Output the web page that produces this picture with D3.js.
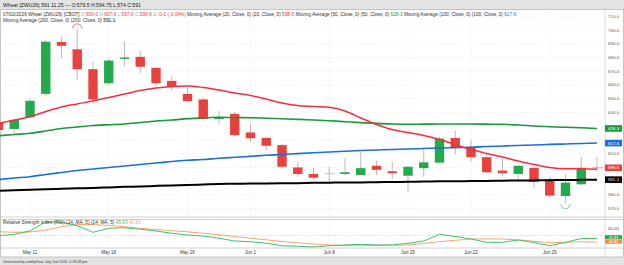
<!DOCTYPE html>
<html>
<head>
<meta charset="utf-8">
<script src="https://cdn.jsdelivr.net/npm/d3@7"></script>
<style>
body { margin: 0; background: #fff; }
svg { display: block; font-family: "Liberation Sans", Arial, sans-serif; }
</style>
</head>
<body>
<svg id="chart" width="624" height="265"></svg>
<script>
// daily bars, ZWU26
var dates = ["May 7","May 8","May 11","May 12","May 13","May 14","May 15","May 18","May 19","May 20",
  "May 21","May 22","May 26","May 27","May 28","May 29","Jun 1","Jun 2","Jun 3","Jun 4",
  "Jun 5","Jun 8","Jun 9","Jun 10","Jun 11","Jun 12","Jun 15","Jun 16","Jun 17","Jun 18",
  "Jun 22","Jun 23","Jun 24","Jun 25","Jun 26","Jun 29","Jun 30","Jul 1","Jul 2"];
var opens  = [633, 628, 636.5, 653.5, 691.25, 686, 671.5, 661.25, 679, 680.5,
  672.5, 663, 653.5, 649.5, 635.25, 639, 625.5, 621.5, 616.25, 600,
  595.25, 595.75, 595.25, 594.5, 601.25, 597.25, 594, 599.5, 603.5, 621.5,
  615, 607.5, 597.75, 595.25, 599.75, 591.5, 579.25, 587.75, 600];
var highs  = [634.5, 635.5, 650.25, 692.75, 695, 700.5, 677, 679.5, 691.5, 685,
  673, 667, 658, 651, 641.25, 640.5, 631.5, 622.5, 617, 603.75,
  599.5, 600.5, 606.75, 611, 605, 604.25, 600.75, 613.25, 622, 626.5,
  620, 610.75, 606.75, 601.5, 600, 593.25, 595, 607.75, 607.75];
var lows   = [623.5, 624.25, 635.75, 651.5, 679.5, 664, 646.25, 659.75, 674, 668.5,
  659.25, 655.5, 647.75, 634, 631.5, 622.5, 618.75, 612.25, 599.5, 593.25,
  591, 588, 594.5, 594.5, 594.5, 591.5, 582.5, 593.25, 603, 609.5,
  604.25, 596.25, 593.25, 591, 584.75, 577.5, 574, 586.75, 597];
var closes = [627.25, 634.5, 648.5, 691.5, 688.5, 671.5, 649.5, 677.75, 680, 673.25,
  661.25, 658.75, 648.25, 635.25, 636.5, 623.5, 621.25, 615.75, 600.5, 595.25,
  592.5, 595.75, 596.5, 599.5, 598.25, 595.75, 600.5, 603.75, 621, 614.5,
  607.5, 596.5, 595.75, 601.25, 589.5, 579.5, 589, 599.75, 599.75];

var ma20  = [632, 634.5, 636.9, 640.7, 644, 646.2, 648.35, 650.9, 653.4, 656,
  657.8, 658.9, 659.3, 658.2, 656.35, 654.2, 652.4, 649.8, 646.9, 645.1,
  644.4, 643.8, 641.1, 636, 631.3, 627.6, 625.4, 623.25, 620.3, 616.7,
  613.1, 610.2, 607.6, 604.7, 602.2, 600, 599.1, 599.1, 598.625];
var ma50  = [623.1, 624, 624.85, 626.5, 628.3, 629.4, 630.5, 631.1, 631.6, 632.7,
  633.8, 634.5, 635.5, 636.1, 636.5, 636.3, 636.2, 635.8, 635.4, 635,
  634.5, 634, 633.3, 632.6, 632.1, 631.6, 631.4, 631.5, 631.6, 631.6,
  631.6, 631.5, 631.4, 630.9, 630.2, 629.6, 629.2, 628.85, 628.375];
var ma100 = [591.2, 592.3, 593.3, 594.9, 596.3, 597.8, 598.9, 600, 601.1, 602.2,
  603.2, 604.3, 605.2, 605.8, 606.7, 607.4, 608.1, 608.85, 609.4, 610.1,
  610.7, 611.25, 611.8, 612.3, 612.7, 613.1, 613.4, 613.8, 614.2, 614.45,
  614.7, 615.2, 615.6, 616, 616.3, 616.8, 617.1, 617.4, 617.75];
var ma200 = [583.1, 583.5, 583.8, 584.2, 584.5, 584.8, 585.1, 585.5, 585.9, 586.2,
  586.6, 586.95, 587.2, 587.6, 588, 588.1, 588.3, 588.4, 588.5, 588.6,
  588.8, 588.9, 589.1, 589.1, 589.3, 589.4, 589.6, 589.7, 589.9, 589.9,
  590.1, 590.2, 590.4, 590.5, 590.6, 590.7, 590.9, 591, 591.125];

var rsi   = [49.7, 51.6, 56.1, 68.7, 67.9, 63.3, 54.3, 59.7, 60.6, 58.4,
  56.1, 53, 50.6, 49.3, 46.2, 42.5, 41.55, 39.4, 36.1, 35.3,
  34.4, 36.1, 37.1, 38, 37.1, 37.1, 39.4, 42.5, 51.6, 48.6,
  45.2, 40.7, 40.7, 43.9, 40.5, 36.1, 40.7, 45.83, 45.83];
var rsiMa = [55.1, 54.3, 54.7, 57.4, 61.9, 64.6, 64.9, 63.5, 61.9, 59.7,
  58.1, 56.5, 55, 53, 50.9, 48.6, 46.2, 44.1, 41.8, 40.2,
  38.4, 37.1, 36.4, 36.1, 36.4, 36.8, 37.1, 39.1, 41.55, 43.45,
  45.2, 45.2, 45.2, 43.9, 42.1, 40.2, 40.7, 41.55, 40.81];

var priceTicks = [570, 580, 590, 600, 610, 620, 630, 640, 650, 660, 670, 680, 690, 700, 710];
var dateTicks = ["May 11","May 18","May 26","Jun 1","Jun 8","Jun 15","Jun 22","Jun 29"];

var svg = d3.select("#chart");
var W = 624, H = 265, plotR = 605;
var priceTop = 10, priceBot = 217, rsiTop = 220, rsiBot = 248;

var x = d3.scalePoint().domain(dates).range([-1.5, 597]);
var y = d3.scaleLinear().domain([570, 700]).range([208.7, 30]);
var yr = d3.scaleLinear().domain([33, 71]).range([rsiBot, rsiTop]);

var cRed = "#e8423f", cGreen = "#25a94d";
var grid = "#d9d9d9", txt = "#333";
var fs = 4.75;

function eighths(v) {
  var f = Math.floor(v);
  return f + "-" + Math.round((v - f) * 8);
}

// header / footer bars
svg.append("rect").attr("x", 0).attr("y", 0).attr("width", W).attr("height", 9.5).attr("fill", "#e3e3e3");
svg.append("rect").attr("x", 0).attr("y", 257).attr("width", W).attr("height", 8).attr("fill", "#e3e3e3");
svg.append("text").attr("x", 3).attr("y", 6.6).attr("font-size", 5.1).attr("fill", "#222")
  .text("Wheat (ZWU26) 591 11.25 \u2014 O:579.5 H:594.75 L:574 C:591");
svg.append("text").attr("x", 3).attr("y", 262.6).attr("font-size", 3.6).attr("fill", "#333")
  .text("Generated by cmdtyView, July 2nd 2026, 2:18:48 pm");

// frame
svg.append("rect").attr("x", 0.5).attr("y", 9.5).attr("width", W - 1).attr("height", 247.5)
  .attr("fill", "none").attr("stroke", "#c4c4c4");
svg.append("line").attr("x1", plotR).attr("x2", plotR).attr("y1", 9.5).attr("y2", 257).attr("stroke", "#c4c4c4").attr("stroke-width", 0.6);
[priceBot, rsiTop - 0.5, rsiBot].forEach(function(v) {
  svg.append("line").attr("x1", 0).attr("x2", W).attr("y1", v).attr("y2", v).attr("stroke", "#c4c4c4").attr("stroke-width", 0.8);
});

// gridlines
var gg = svg.append("g").attr("stroke", grid).attr("stroke-width", 0.5).attr("stroke-dasharray", "1,1.5");
priceTicks.forEach(function(t) {
  var yy = y(t);
  if (yy > priceTop + 3 && yy < priceBot)
    gg.append("line").attr("x1", 0).attr("x2", plotR).attr("y1", yy).attr("y2", yy);
});
dateTicks.forEach(function(d) {
  gg.append("line").attr("x1", x(d)).attr("x2", x(d)).attr("y1", priceTop).attr("y2", priceBot);
  gg.append("line").attr("x1", x(d)).attr("x2", x(d)).attr("y1", rsiTop).attr("y2", rsiBot);
});

// price pane
svg.append("clipPath").attr("id", "pc").append("rect")
  .attr("x", 0).attr("y", priceTop).attr("width", plotR).attr("height", priceBot - priceTop);
var pg = svg.append("g").attr("clip-path", "url(#pc)");

var idx = d3.range(dates.length);
var bw = 9.4;

pg.selectAll(".wick").data(idx).enter().append("line")
  .attr("x1", function(i) { return x(dates[i]); })
  .attr("x2", function(i) { return x(dates[i]); })
  .attr("y1", function(i) { return y(highs[i]); })
  .attr("y2", function(i) { return y(lows[i]); })
  .attr("stroke", "#a8a8a8").attr("stroke-width", 0.8);

function candleColor(i) {
  if (closes[i] > opens[i]) return cGreen;
  if (closes[i] < opens[i]) return cRed;
  return "#bdbdbd";
}
pg.selectAll(".body").data(idx).enter().append("rect")
  .attr("x", function(i) { return x(dates[i]) - bw / 2; })
  .attr("width", bw)
  .attr("y", function(i) { return y(Math.max(opens[i], closes[i])); })
  .attr("height", function(i) { return Math.max(0.9, Math.abs(y(opens[i]) - y(closes[i]))); })
  .attr("fill", candleColor)
  .attr("opacity", function(i) { return i == dates.length - 1 ? 0.45 : 1; });

var line = d3.line().x(function(d, i) { return x(dates[i]); }).y(function(d) { return y(d); }).curve(d3.curveMonotoneX);
[[ma200, "#000", 2], [ma100, "#1b6fd8", 1.6], [ma50, "#159a3c", 1.6], [ma20, "#fa2b3b", 1.5]].forEach(function(s) {
  pg.append("path").attr("d", line(s[0])).attr("fill", "none").attr("stroke", s[1]).attr("stroke-width", s[2]);
});

// high / low markers
var hi = d3.maxIndex(highs), lo = d3.minIndex(lows);
pg.append("path").attr("d", d3.arc()({innerRadius: 4.5, outerRadius: 4.5, startAngle: -Math.PI / 2, endAngle: Math.PI / 2}))
  .attr("transform", "translate(" + x(dates[hi]) + "," + (y(highs[hi]) - 1) + ")")
  .attr("fill", "none").attr("stroke", "#f07a7a").attr("stroke-width", 0.7);
pg.append("path").attr("d", d3.arc()({innerRadius: 4.5, outerRadius: 4.5, startAngle: Math.PI / 2, endAngle: Math.PI * 1.5}))
  .attr("transform", "translate(" + x(dates[lo]) + "," + (y(lows[lo]) + 1) + ")")
  .attr("fill", "none").attr("stroke", "#7fd69a").attr("stroke-width", 0.7);

// last close tick
var last = dates.length - 1;
pg.append("line").attr("x1", x(dates[last]) - 4).attr("x2", plotR).attr("y1", y(closes[last])).attr("y2", y(closes[last]))
  .attr("stroke", "#f4a0a0").attr("stroke-width", 0.8);

// price axis labels
var boxes = [[closes[last], cRed], [ma50[last], "#159a3c"], [ma100[last], "#1b6fd8"], [ma200[last], "#000"]];
priceTicks.forEach(function(t) {
  var yy = y(t);
  var near = boxes.some(function(b) { return Math.abs(y(b[0]) - yy) < 6; });
  if (yy < priceTop + 3 || yy > priceBot - 3 || near) return;
  svg.append("text").attr("x", 608).attr("y", yy + 1.5).attr("font-size", 4.4).attr("fill", "#555").text(t + "-0");
});
boxes.forEach(function(b) {
  var yy = y(b[0]);
  svg.append("rect").attr("x", plotR).attr("y", yy - 3.3).attr("width", 17).attr("height", 6.6).attr("fill", b[1]);
  svg.append("text").attr("x", 613.5).attr("y", yy + 1.5).attr("text-anchor", "middle")
    .attr("font-size", 4.4).attr("fill", "#fff").text(eighths(b[0]));
});

// legend
var lg = svg.append("text").attr("x", 3).attr("y", 15.6).attr("font-size", fs).attr("fill", txt);
[["07/02/2026 Wheat (ZWU26) [CBOT] ", txt], ["O:", "#aaa"], ["600-0", cRed], [" H:", "#aaa"], ["607-6", cRed],
 [" L:", "#aaa"], ["597-0", cRed], [" C:", "#aaa"], ["599-6", cRed], [" \u0394:", "#aaa"], ["-0-2 (-0.04%)", cRed],
 [" Moving Average (20, Close, 0) (20, Close, 0) ", txt], [eighths(ma20[last]), "#fa2b3b"],
 [" Moving Average (50, Close, 0) (50, Close, 0) ", txt], [eighths(ma50[last]), "#159a3c"],
 [" Moving Average (100, Close, 0) (100, Close, 0) ", txt], [eighths(ma100[last]), "#1b6fd8"]
].forEach(function(p) { lg.append("tspan").attr("fill", p[1]).text(p[0]); });
var lg2 = svg.append("text").attr("x", 3).attr("y", 21.8).attr("font-size", fs).attr("fill", txt);
lg2.append("tspan").text("Moving Average (200, Close, 0) (200, Close, 0) ");
lg2.append("tspan").attr("fill", "#000").text(eighths(ma200[last]));

// RSI pane
svg.append("line").attr("x1", 0).attr("x2", plotR).attr("y1", yr(50)).attr("y2", yr(50))
  .attr("stroke", "#9a9a9a").attr("stroke-width", 0.5).attr("stroke-dasharray", "1,1.5");
svg.append("clipPath").attr("id", "rc").append("rect")
  .attr("x", 0).attr("y", rsiTop).attr("width", plotR).attr("height", rsiBot - rsiTop);
var rg = svg.append("g").attr("clip-path", "url(#rc)");
var rline = d3.line().x(function(d, i) { return x(dates[i]); }).y(function(d) { return yr(d); });
rg.append("path").attr("d", rline(rsiMa)).attr("fill", "none").attr("stroke", "#f7a56f").attr("stroke-width", 1);
rg.append("path").attr("d", rline(rsi)).attr("fill", "none").attr("stroke", "#3cc46a").attr("stroke-width", 1);

var rl = svg.append("text").attr("x", 3).attr("y", 224.4).attr("font-size", fs).attr("fill", txt);
rl.append("tspan").text("Relative Strength Index (RSI) (14, MA, 5) (14, MA, 5) ");
rl.append("tspan").attr("fill", "#3cc46a").text(rsi[last].toFixed(2));
rl.append("tspan").text(" ");
rl.append("tspan").attr("fill", "#f7a56f").text(rsiMa[last].toFixed(2));

svg.append("text").attr("x", 608).attr("y", yr(60) + 1.5).attr("font-size", 4.4).attr("fill", "#555").text("60.00");
[[rsi[last], "#1fae4a", yr(rsi[last]) - 1.3], [rsiMa[last], "#f58a45", yr(rsiMa[last]) - 0.6]].forEach(function(b) {
  svg.append("rect").attr("x", plotR).attr("y", b[2] - 2.1).attr("width", 17).attr("height", 4.2).attr("fill", b[1]);
  svg.append("text").attr("x", 613.5).attr("y", b[2] + 1.3).attr("text-anchor", "middle")
    .attr("font-size", 3.8).attr("fill", "#fff").text(b[0].toFixed(2));
});

// date axis
dateTicks.forEach(function(d) {
  svg.append("text").attr("x", x(d)).attr("y", 254.3).attr("text-anchor", "middle")
    .attr("font-size", 4.5).attr("fill", txt).text(d);
});
</script>
</body>
</html>
